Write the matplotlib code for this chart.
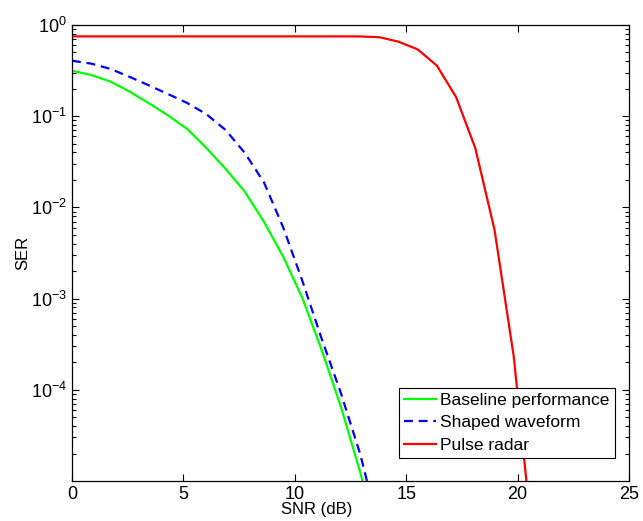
import matplotlib
matplotlib.use("Agg")
import matplotlib.pyplot as plt
import numpy as np
from matplotlib.ticker import LogLocator, NullFormatter, FixedLocator

plt.rcParams['font.family'] = ['Liberation Sans', 'DejaVu Sans']
plt.rcParams['mathtext.fontset'] = 'custom'
plt.rcParams['mathtext.rm'] = 'Liberation Sans'

snr_db = [0.000, 0.862, 1.724, 2.586, 3.448, 4.310, 5.172, 6.034, 6.897, 7.759,
          8.621, 9.483, 10.345, 11.207, 12.069, 12.931, 13.793, 14.655, 15.517,
          16.379, 17.241, 18.103, 18.966, 19.828, 20.690]

baseline = [0.315, 0.283, 0.240, 0.186, 0.139, 0.102, 0.0725, 0.0448, 0.0264,
            0.01486, 6.91e-3, 2.88e-3, 1.007e-3, 2.73e-4, 6.53e-5, 1.26e-5, 2.0e-6]

shaped = [0.406, 0.377, 0.330, 0.270, 0.218, 0.175, 0.1395, 0.105, 0.0705,
          0.0395, 0.0187, 6.0e-3, 1.55e-3, 3.62e-4, 9.2e-5, 1.99e-5, 2.9e-6]

pulse = [0.75, 0.75, 0.75, 0.75, 0.75, 0.75, 0.75, 0.75, 0.75, 0.75, 0.75,
         0.75, 0.75, 0.75, 0.75, 0.749, 0.735, 0.656, 0.54, 0.358, 0.162,
         0.0445, 5.65e-3, 2.31e-4, 1.95e-6]

labels = ['Baseline performance', 'Shaped waveform', 'Pulse radar']
xticks = [0, 5, 10, 15, 20, 25]
yticks = [1e-4, 1e-3, 1e-2, 1e-1, 1e0]
ytick_labels = [r'$10^{-4}$', r'$10^{-3}$', r'$10^{-2}$', r'$10^{-1}$', r'$10^{0}$']

fig = plt.figure(figsize=(6.43, 5.21), dpi=100)
ax = fig.add_axes([72/643, 1-481/521, (629-72)/643, (481-25)/521])

ax.semilogy(snr_db[:len(baseline)], baseline, color=(0, 1, 0), lw=1.6, label=labels[0])
ax.semilogy(snr_db[:len(shaped)], shaped, color=(0, 0, 1), lw=1.6, ls=(0, (4, 2.6)), label=labels[1])
ax.semilogy(snr_db, pulse, color=(1, 0, 0), lw=1.6, label=labels[2])

ax.set_xlim(0, 25)
ax.set_ylim(1e-5, 1)
ax.set_xticks(xticks)
ax.set_xticklabels([str(t) for t in xticks])
ax.yaxis.set_major_locator(FixedLocator(yticks))
ax.set_yticklabels(ytick_labels)
ax.yaxis.set_minor_locator(LogLocator(base=10, subs=np.arange(2, 10), numticks=20))
ax.yaxis.set_minor_formatter(NullFormatter())

ax.tick_params(which='both', direction='in', top=True, right=True, labelsize=13, width=0.8, colors='black')
ax.tick_params(which='major', length=5)
ax.tick_params(which='minor', length=3)
for s in ax.spines.values():
    s.set_linewidth(0.9)

ax.set_xlabel('SNR (dB)', fontsize=12)
ax.set_ylabel('SER', fontsize=12)
ax.xaxis.set_label_coords(0.44, -0.045)
ax.yaxis.set_label_coords(-0.075, 0.5)

leg = ax.legend(loc='lower right', bbox_to_anchor=(1 - 14/557, 23/456), fontsize=12.5,
                frameon=True, fancybox=False, edgecolor='black', framealpha=1,
                borderpad=0.3, labelspacing=0.42, handlelength=1.85, handletextpad=0.25,
                borderaxespad=0)
leg.get_frame().set_linewidth(0.8)

fig.savefig('out.png', dpi=100)
